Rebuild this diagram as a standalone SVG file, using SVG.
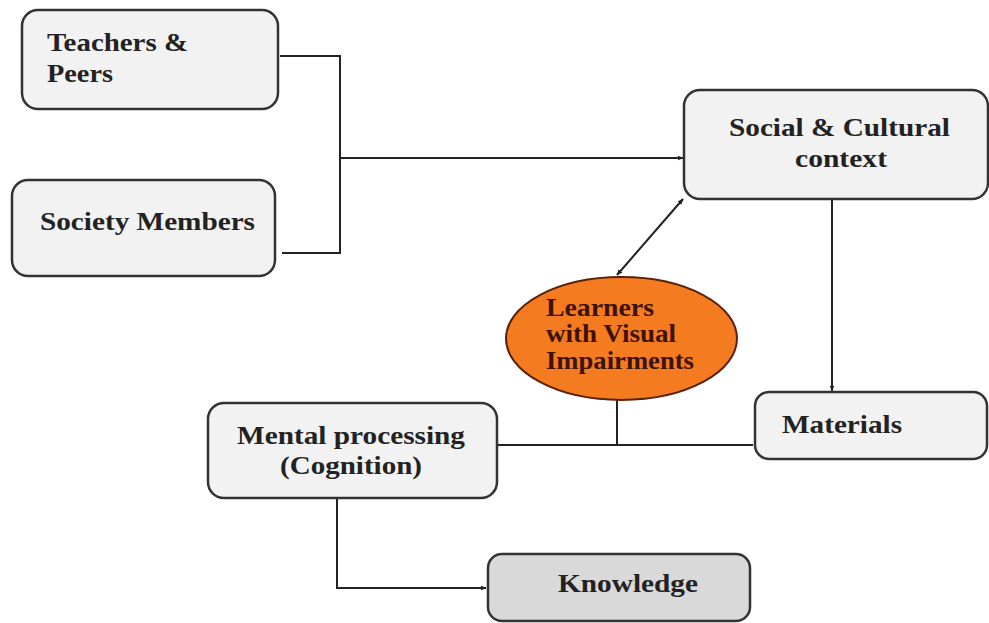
<svg xmlns="http://www.w3.org/2000/svg" width="989" height="623" viewBox="0 0 989 623">
<defs>
<style>
.box{fill:#f2f2f2;stroke:#333;stroke-width:2.5}
.kb{fill:#d9d9d9;stroke:#333;stroke-width:2.5}
.t{font-family:"Liberation Serif","Times New Roman",serif;font-weight:bold;font-size:25px;fill:#222}
.lt{font-family:"Liberation Serif","Times New Roman",serif;font-weight:bold;font-size:25px;fill:#3e1206}
.c{fill:none;stroke:#222;stroke-width:2}
</style>
<marker id="ah" viewBox="0 0 10 10" refX="9" refY="5" markerWidth="6" markerHeight="6" orient="auto-start-reverse" markerUnits="userSpaceOnUse">
<path d="M0,1 L10,5 L0,9 z" fill="#222"/>
</marker>
</defs>
<rect width="989" height="623" fill="#fff"/>
<g id="connectors">
<polyline class="c" points="280,56 340,56 340,253 282,253"/>
<line class="c" x1="340" y1="158" x2="683" y2="158" marker-end="url(#ah)"/>
<line class="c" x1="832" y1="200" x2="832" y2="391" marker-end="url(#ah)"/>
<line class="c" x1="617" y1="275" x2="683" y2="199" marker-start="url(#ah)" marker-end="url(#ah)"/>
<line class="c" x1="617" y1="400" x2="617" y2="445"/>
<line class="c" x1="497" y1="445" x2="753" y2="445"/>
<polyline class="c" points="337,498 337,588 486,588" marker-end="url(#ah)"/>
</g>
<g id="teachers">
<rect class="box" x="22" y="10" width="256" height="99" rx="16"/>
<text class="t" x="47" y="51" textLength="141" lengthAdjust="spacingAndGlyphs">Teachers &amp;</text>
<text class="t" x="47" y="82" textLength="66" lengthAdjust="spacingAndGlyphs">Peers</text>
</g>
<g id="society">
<rect class="box" x="12" y="180" width="263" height="96" rx="16"/>
<text class="t" x="40" y="230" textLength="215" lengthAdjust="spacingAndGlyphs">Society Members</text>
</g>
<g id="social">
<rect class="box" x="684" y="90" width="304" height="109" rx="16"/>
<text class="t" x="729" y="136" textLength="221" lengthAdjust="spacingAndGlyphs">Social &amp; Cultural</text>
<text class="t" x="795" y="167" textLength="92" lengthAdjust="spacingAndGlyphs">context</text>
</g>
<g id="learners">
<ellipse cx="621.5" cy="338.5" rx="115.5" ry="61.5" fill="#f47b20" stroke="#5a2208" stroke-width="2"/>
<text class="lt" x="546" y="316" textLength="108" lengthAdjust="spacingAndGlyphs">Learners</text>
<text class="lt" x="546" y="342" textLength="130" lengthAdjust="spacingAndGlyphs">with Visual</text>
<text class="lt" x="546" y="369" textLength="148" lengthAdjust="spacingAndGlyphs">Impairments</text>
</g>
<g id="materials">
<rect class="box" x="755" y="392" width="232" height="67" rx="14"/>
<text class="t" x="782" y="433" textLength="120" lengthAdjust="spacingAndGlyphs">Materials</text>
</g>
<g id="mental">
<rect class="box" x="208" y="403" width="289" height="95" rx="16"/>
<text class="t" x="237" y="444" textLength="228" lengthAdjust="spacingAndGlyphs">Mental processing</text>
<text class="t" x="280" y="474" textLength="142" lengthAdjust="spacingAndGlyphs">(Cognition)</text>
</g>
<g id="knowledge">
<rect class="kb" x="488" y="554" width="262" height="67" rx="14"/>
<text class="t" x="558" y="592" textLength="140" lengthAdjust="spacingAndGlyphs">Knowledge</text>
</g>
</svg>
